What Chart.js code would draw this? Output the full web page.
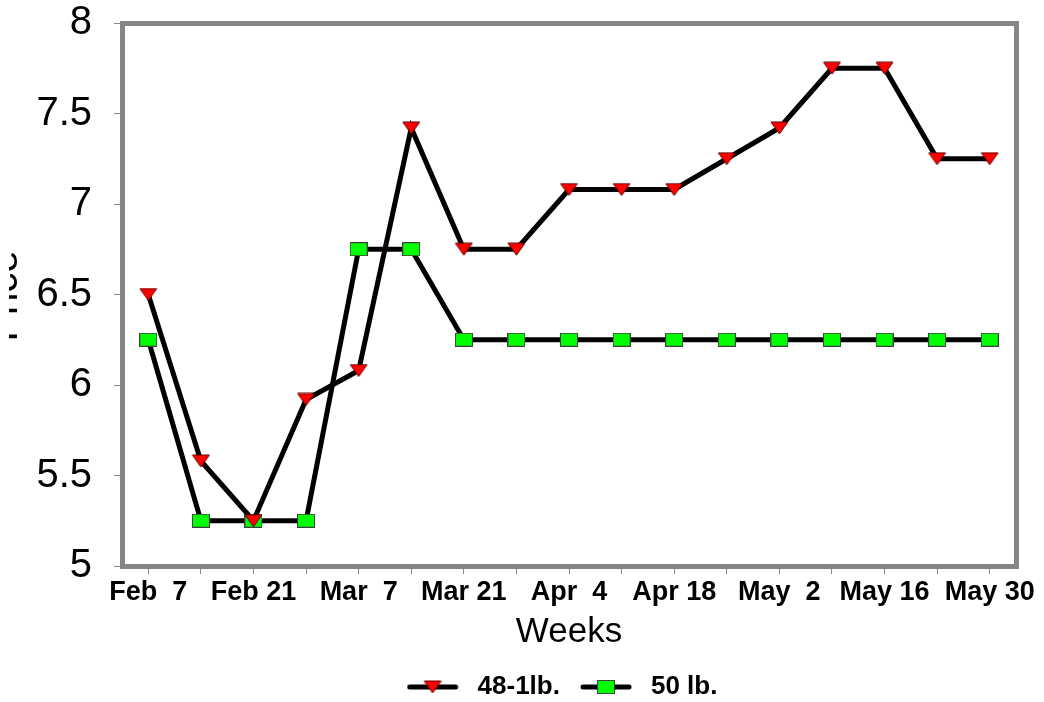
<!DOCTYPE html>
<html>
<head>
<meta charset="utf-8">
<script src="https://cdn.jsdelivr.net/npm/chart.js@4/dist/chart.umd.min.js"></script>
<style>
  body { margin: 0; background: #fff; }
  canvas { display: block; }
</style>
</head>
<body>
<canvas id="myChart" width="1044" height="702"></canvas>
<script>
const weeks = [
    "Feb  7", "Feb 14", "Feb 21", "Feb 28", "Mar  7", "Mar 14", "Mar 21", "Mar 28",
    "Apr  4", "Apr 11", "Apr 18", "Apr 25", "May  2", "May  9", "May 16", "May 23", "May 30"
];
const price48 = [6.5, 5.58, 5.25, 5.92, 6.08, 7.42, 6.75, 6.75, 7.08, 7.08, 7.08, 7.25, 7.42, 7.75, 7.75, 7.25, 7.25];
const price50 = [6.25, 5.25, 5.25, 5.25, 6.75, 6.75, 6.25, 6.25, 6.25, 6.25, 6.25, 6.25, 6.25, 6.25, 6.25, 6.25, 6.25];
const yTicks = [5, 5.5, 6, 6.5, 7, 7.5, 8];

const FONT = "'Liberation Sans', Arial, sans-serif";

// marker images
function triMarker() {
    var c = document.createElement("canvas");
    c.width = 19; c.height = 14;
    var g = c.getContext("2d");
    g.beginPath();
    g.moveTo(1, 1); g.lineTo(18, 1); g.lineTo(9.5, 13); g.closePath();
    g.fillStyle = "#ff0000"; g.fill();
    g.lineWidth = 1; g.strokeStyle = "#600000"; g.stroke();
    return c;
}
function rectMarker() {
    var c = document.createElement("canvas");
    c.width = 18; c.height = 14;
    var g = c.getContext("2d");
    g.fillStyle = "#00ff00";
    g.fillRect(0.5, 0.5, 17, 13);
    g.lineWidth = 1; g.strokeStyle = "#404040";
    g.strokeRect(0.5, 0.5, 17, 13);
    return c;
}
// line + marker for the legend, blank space on the right
function legendMarker(marker) {
    var c = document.createElement("canvas");
    c.width = 58; c.height = 20;
    var g = c.getContext("2d");
    g.lineWidth = 5; g.lineCap = "round"; g.strokeStyle = "#000";
    g.beginPath(); g.moveTo(3, 10); g.lineTo(49, 10); g.stroke();
    g.drawImage(marker, 26 - marker.width / 2, 10 - marker.height / 2);
    return c;
}
const tri = triMarker();
const sq = rectMarker();
const legendImgs = [legendMarker(tri), legendMarker(sq)];

const frame = {
    id: "frame",
    afterDatasetsDraw(chart) {
        const a = chart.chartArea, ctx = chart.ctx;
        ctx.save();
        ctx.lineWidth = 5;
        ctx.strokeStyle = "#858585";
        ctx.strokeRect(a.left + 0.5, a.top + 0.5, a.right - a.left, a.bottom - a.top);
        ctx.restore();
    }
};

// the legend in the original sits to the right of the canvas centre
const legendShift = {
    id: "legendShift",
    afterLayout(chart) {
        chart.legend.left += 108;
        chart.legend.top -= 3;
    }
};

// y title is mostly cut off at the left edge
const yTitle = {
    id: "yTitle",
    afterDraw(chart) {
        const ctx = chart.ctx;
        ctx.save();
        ctx.beginPath();
        ctx.rect(9, 0, 10, chart.height);
        ctx.clip();
        ctx.translate(17, 296);
        ctx.rotate(-Math.PI / 2);
        ctx.font = "40px " + FONT;
        ctx.fillStyle = "#000";
        ctx.textAlign = "center";
        ctx.textBaseline = "alphabetic";
        ctx.fillText("Price", 0, 0);
        ctx.restore();
    }
};

var ctx = document.getElementById("myChart").getContext("2d");
var myChart = new Chart(ctx, {
    type: "line",
    data: {
        labels: weeks,
        datasets: [{
            label: "48-1lb.",
            data: price48,
            borderColor: "#000",
            borderWidth: 5,
            pointStyle: tri,
            pointRadius: 9,
            tension: 0
        }, {
            label: "50 lb.",
            data: price50,
            borderColor: "#000",
            borderWidth: 5,
            pointStyle: sq,
            pointRadius: 9,
            tension: 0
        }]
    },
    options: {
        responsive: false,
        animation: false,
        layout: {
            padding: { top: 23, right: 28, left: 0, bottom: -11 }
        },
        plugins: {
            tooltip: { enabled: false },
            legend: {
                position: "bottom",
                labels: {
                    usePointStyle: true,
                    pointStyleWidth: 58,
                    padding: 20,
                    color: "#000",
                    font: { family: FONT, size: 26, weight: "bold" },
                    generateLabels(chart) {
                        var items = Chart.defaults.plugins.legend.labels.generateLabels(chart);
                        items.forEach(function(it, i) { it.pointStyle = legendImgs[i]; });
                        return items;
                    }
                }
            }
        },
        scales: {
            x: {
                offset: true,
                afterFit(scale) { scale.height = 91; },
                grid: {
                    offset: false,
                    drawOnChartArea: false,
                    color: "#888888",
                    tickLength: 8
                },
                border: { display: false },
                ticks: {
                    autoSkip: false,
                    maxRotation: 0,
                    padding: 2,
                    color: "#000",
                    font: { family: FONT, size: 27, weight: "bold" },
                    callback: function(v, i) { return i % 2 === 0 ? weeks[i] : ""; }
                },
                title: {
                    display: true,
                    text: "Weeks",
                    color: "#000",
                    padding: { top: 0, bottom: 4 },
                    font: { family: FONT, size: 35 }
                }
            },
            y: {
                min: 5,
                max: 8,
                afterFit(scale) {
                    scale.width = 122;
                    scale.paddingTop = 0;
                    scale.paddingBottom = 0;
                },
                grid: {
                    drawOnChartArea: false,
                    color: "#888888",
                    tickLength: 8
                },
                border: { display: false },
                ticks: {
                    stepSize: 0.25,
                    padding: 22,
                    color: "#000",
                    font: { family: FONT, size: 40 },
                    callback: function(v) { return yTicks.indexOf(v) >= 0 ? String(v) : ""; }
                }
            }
        }
    },
    plugins: [frame, legendShift, yTitle]
});
</script>
</body>
</html>
